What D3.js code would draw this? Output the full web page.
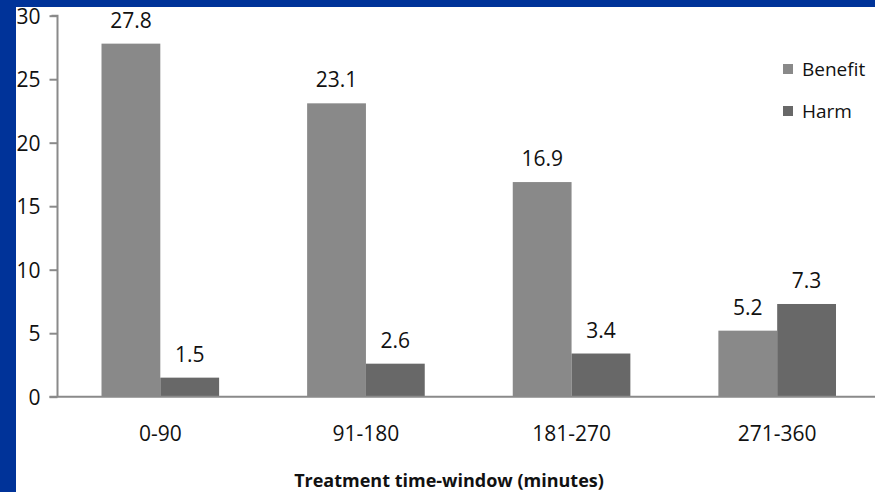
<!DOCTYPE html>
<html>
<head>
<meta charset="utf-8">
<script src="https://cdn.jsdelivr.net/npm/d3@7"></script>
<style>
html,body{margin:0;padding:0;background:#fff;}
svg{display:block;}
text{font-family:"Open Sans","Noto Sans",sans-serif;fill:#111;}
</style>
</head>
<body>
<script>
const categories = ["0-90", "91-180", "181-270", "271-360"];
const seriesNames = ["Benefit", "Harm"];
const benefit = [27.8, 23.1, 16.9, 5.2];
const harm = [1.5, 2.6, 3.4, 7.3];
const yTicks = [0, 5, 10, 15, 20, 25, 30];
const xTitle = "Treatment time-window (minutes)";

const W = 875, H = 492;
const colors = {Benefit: "#898989", Harm: "#686868"};

const svg = d3.select("body").append("svg").attr("width", W).attr("height", H);
svg.append("rect").attr("width", W).attr("height", H).attr("fill", "#fff");

const axX = 57.5, plotRight = 880;
const y = d3.scaleLinear().domain([0, 30]).range([396.7, 15.7]);
const x0 = d3.scaleBand().domain(categories).range([axX, plotRight]).paddingInner(0.428).paddingOuter(0.214);
const x1 = d3.scaleBand().domain(seriesNames).range([0, x0.bandwidth()]);

const rows = categories.map((c, i) => ({cat: c, values: [{k: "Benefit", v: benefit[i]}, {k: "Harm", v: harm[i]}]}));

const g = svg.append("g");
const grp = g.selectAll("g.cat").data(rows).join("g").attr("transform", d => `translate(${x0(d.cat)},0)`);
grp.selectAll("rect").data(d => d.values).join("rect")
  .attr("x", d => x1(d.k)).attr("width", x1.bandwidth())
  .attr("y", d => y(d.v)).attr("height", d => y(0) - y(d.v))
  .attr("fill", d => colors[d.k]);
grp.selectAll("text.val").data(d => d.values).join("text").attr("class", "val")
  .attr("x", d => x1(d.k) + x1.bandwidth() / 2)
  .attr("y", d => y(d.v) - 16)
  .attr("text-anchor", "middle").attr("font-size", 21)
  .text(d => d.v.toFixed(1));

// y axis
const yAxis = d3.axisLeft(y).tickValues(yTicks).tickSize(8).tickPadding(9).tickFormat(d3.format("d"));
const ya = svg.append("g").attr("transform", `translate(${axX},0)`).call(yAxis);
ya.select(".domain").attr("stroke", "#8a8a8a").attr("stroke-width", 2).attr("d", `M-6,${y(30)}H0V${y(0)}`);
ya.selectAll(".tick line").attr("stroke", "#8a8a8a").attr("stroke-width", 2);
ya.selectAll(".tick text").attr("font-size", 21).attr("font-family", "Open Sans").attr("fill", "#111").attr("dy", "0.35em");

// x axis
const xAxis = d3.axisBottom(x0).tickSize(0).tickPadding(29);
const xa = svg.append("g").attr("transform", `translate(0,${y(0)})`).call(xAxis);
xa.select(".domain").attr("stroke", "#8a8a8a").attr("stroke-width", 2).attr("d", `M${axX - 8},0H${plotRight}`);
xa.selectAll(".tick text").attr("font-size", 21).attr("font-family", "Open Sans").attr("fill", "#111");

// x title
svg.append("text").attr("x", 449).attr("y", 487).attr("text-anchor", "middle")
  .attr("font-size", 18).attr("font-weight", "bold").text(xTitle);

// legend
const leg = svg.append("g").selectAll("g").data(seriesNames).join("g")
  .attr("transform", (d, i) => `translate(783,${64 + i * 42})`);
leg.append("rect").attr("width", 10).attr("height", 10).attr("fill", d => colors[d]);
leg.append("text").attr("x", 19).attr("y", 12).attr("font-size", 19).text(d => d);

// blue frame (left and top), drawn on top
svg.append("rect").attr("x", 0).attr("y", 0).attr("width", 16).attr("height", H).attr("fill", "#003399");
svg.append("rect").attr("x", 0).attr("y", 0).attr("width", W).attr("height", 7).attr("fill", "#003399");
</script>
</body>
</html>
